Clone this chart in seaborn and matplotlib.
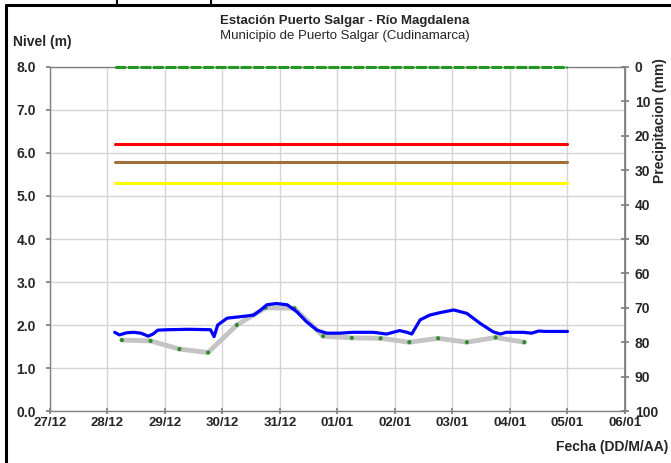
import pandas as pd
import matplotlib.pyplot as plt
import matplotlib.dates as mdates
from matplotlib.lines import Line2D
import seaborn as sns

# Observed level (blue line)
nivel_fechas = [
    "2018-12-28 03:00", "2018-12-28 05:00", "2018-12-28 08:00", "2018-12-28 11:00",
    "2018-12-28 14:00", "2018-12-28 17:00", "2018-12-28 19:00", "2018-12-28 21:00",
    "2018-12-29 01:00", "2018-12-29 10:00", "2018-12-29 19:00", "2018-12-29 20:30",
    "2018-12-29 22:00", "2018-12-30 02:00", "2018-12-30 07:00", "2018-12-30 13:00",
    "2018-12-30 16:00", "2018-12-30 18:30", "2018-12-30 22:30", "2018-12-31 03:00",
    "2018-12-31 07:00", "2018-12-31 11:00", "2018-12-31 15:30", "2018-12-31 19:30",
    "2019-01-01 01:00", "2019-01-01 06:30", "2019-01-01 15:00", "2019-01-01 20:30",
    "2019-01-02 02:00", "2019-01-02 05:00", "2019-01-02 07:00", "2019-01-02 10:30",
    "2019-01-02 14:30", "2019-01-02 19:00", "2019-01-03 00:30", "2019-01-03 06:00",
    "2019-01-03 11:30", "2019-01-03 17:00", "2019-01-03 20:00", "2019-01-03 22:30",
    "2019-01-04 05:30", "2019-01-04 09:00", "2019-01-04 12:00", "2019-01-04 15:00",
    "2019-01-05 00:00",
]
nivel_valores = [
    1.83, 1.77, 1.82, 1.83, 1.81, 1.74, 1.79, 1.88,
    1.89, 1.90, 1.89, 1.73, 2.00, 2.16, 2.19, 2.23,
    2.35, 2.47, 2.50, 2.47, 2.31, 2.08, 1.88, 1.81,
    1.81, 1.83, 1.83, 1.79, 1.87, 1.83, 1.79, 2.12,
    2.23, 2.29, 2.35, 2.27, 2.04, 1.84, 1.79, 1.83,
    1.83, 1.81, 1.86, 1.85, 1.85,
]

# Reference level every 12 h (gray line with green points)
ref_fechas = [
    "2018-12-28 06:00", "2018-12-28 18:00", "2018-12-29 06:00", "2018-12-29 18:00",
    "2018-12-30 06:00", "2018-12-30 18:00", "2018-12-31 06:00", "2018-12-31 18:00",
    "2019-01-01 06:00", "2019-01-01 18:00", "2019-01-02 06:00", "2019-01-02 18:00",
    "2019-01-03 06:00", "2019-01-03 18:00", "2019-01-04 06:00",
]
ref_valores = [1.65, 1.63, 1.44, 1.36, 2.00, 2.40, 2.39, 1.74,
               1.70, 1.69, 1.60, 1.69, 1.60, 1.71, 1.60]

# Threshold levels
umbral_nombres = ["max", "rojo", "naranja", "amarillo"]
umbral_valores = [8.0, 6.2, 5.8, 5.3]
umbral_colores = ["#1f9a1f", "#ff0000", "#a0703a", "#ffff00"]
umbral_inicio = "2018-12-28 03:00"
umbral_fin = "2019-01-05 00:00"

fechas_ticks = pd.date_range("2018-12-27", "2019-01-06", freq="D")

df_nivel = pd.DataFrame({"fecha": pd.to_datetime(nivel_fechas), "nivel": nivel_valores})
df_ref = pd.DataFrame({"fecha": pd.to_datetime(ref_fechas), "nivel": ref_valores})

sns.set_theme(style="white")
plt.rcParams["font.family"] = ["Liberation Sans", "DejaVu Sans"]

fig = plt.figure(figsize=(6.71, 4.63), dpi=100)
ax = fig.add_axes([0.0745, 0.1123, 0.8569, 0.743])

# threshold lines
for nombre, val, col in zip(umbral_nombres, umbral_valores, umbral_colores):
    df_u = pd.DataFrame({"fecha": pd.to_datetime([umbral_inicio, umbral_fin]), "nivel": [val, val]})
    sns.lineplot(data=df_u, x="fecha", y="nivel", ax=ax, color=col, lw=2.2, zorder=3)
    if nombre == "max":
        ax.lines[-1].set_dashes([3.5, 0.6])
        ax.lines[-1].set_clip_on(False)

sns.lineplot(data=df_ref, x="fecha", y="nivel", ax=ax, color="#c4c4c4", lw=3.5, zorder=4)
sns.scatterplot(data=df_ref, x="fecha", y="nivel", ax=ax, color="#2e8b2e", s=9,
                edgecolor="none", zorder=5)
sns.lineplot(data=df_nivel, x="fecha", y="nivel", ax=ax, color="#0000ff", lw=2.3, zorder=6)

ax.set_xlim(fechas_ticks[0], fechas_ticks[-1])
ax.set_ylim(0, 8)
ax.set_yticks([i for i in range(9)])
ax.set_yticklabels([f"{i:.1f}" for i in range(9)], fontweight="bold", fontsize=10)
ax.set_xticks(fechas_ticks)
ax.xaxis.set_major_formatter(mdates.DateFormatter("%d/%m"))
for lbl in ax.get_xticklabels():
    lbl.set_fontweight("bold")
    lbl.set_fontsize(9.5)
ax.set_xlabel("")
ax.set_ylabel("")
ax.grid(True, color="#d4d4d4", lw=1)
ax.tick_params(axis="y", left=True, length=3, color="#808080", pad=7)
ax.tick_params(axis="x", bottom=True, length=4, direction="inout", color="#808080", pad=2)
for s in ax.spines.values():
    s.set_color("#808080")
    s.set_linewidth(1)
    s.set_zorder(1)

ax2 = ax.twinx()
ax2.set_ylim(100, 0)
ax2.set_yticks(list(range(0, 101, 10)))
ax2.set_yticklabels([str(v) for v in range(0, 101, 10)], fontweight="bold", fontsize=10)
ax2.tick_params(axis="y", right=True, length=6, direction="inout", color="#808080", pad=4)
for side, s in ax2.spines.items():
    s.set_color("#808080")
    s.set_visible(side == "right")

fig.text(0.514, 0.955, "Estación Puerto Salgar - Río Magdalena", ha="center", va="center",
         fontsize=9.5, fontweight="bold")
fig.text(0.514, 0.922, "Municipio de Puerto Salgar (Cudinamarca)", ha="center", va="center",
         fontsize=9.5)
fig.text(0.019, 0.909, "Nivel (m)", ha="left", va="center", fontsize=10, fontweight="bold")
fig.text(0.996, 0.035, "Fecha (DD/M/AA)", ha="right", va="center", fontsize=10, fontweight="bold")
fig.text(0.984, 0.74, "Precipitacion (mm)", ha="center", va="center", rotation=90,
         fontsize=10, fontweight="bold")

# outer frame
fig.add_artist(Line2D([0.009, 0.009], [0, 0.989], color="black", lw=2.2, transform=fig.transFigure))
fig.add_artist(Line2D([0.009, 1], [0.989, 0.989], color="black", lw=2.2, transform=fig.transFigure))
for xf in [0.175, 0.315]:
    fig.add_artist(Line2D([xf, xf], [0.989, 1], color="black", lw=1.5, transform=fig.transFigure))

fig.savefig("out.png", dpi=100)
